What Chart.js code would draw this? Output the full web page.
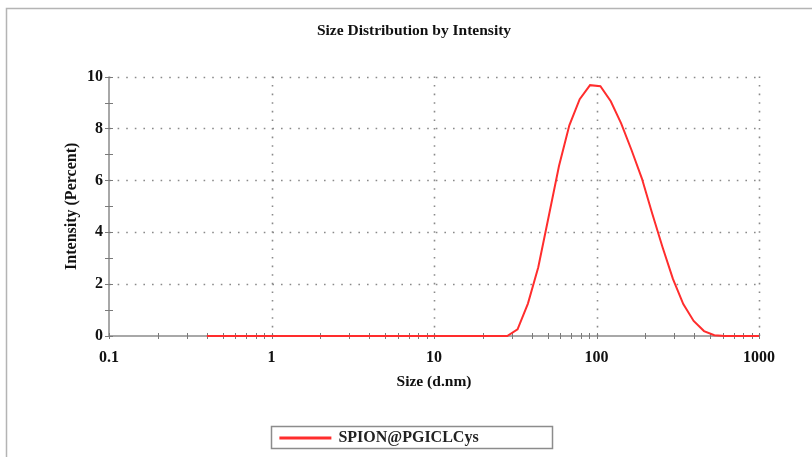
<!DOCTYPE html>
<html>
<head>
<meta charset="utf-8">
<script src="https://cdn.jsdelivr.net/npm/chart.js@4.4.0/dist/chart.umd.min.js"></script>
<style>
  html, body { margin: 0; padding: 0; background: #fff; }
  #wrap { width: 812px; height: 457px; }
</style>
</head>
<body>
<div id="wrap"><canvas id="myChart" width="812" height="457"></canvas></div>
<script>
// size bins (d.nm) and intensity (%)
let sizes = [0.4, 0.4632, 0.5365, 0.6213, 0.7195, 0.8332, 0.9649, 1.117, 1.294, 1.499,
    1.736, 2.010, 2.328, 2.696, 3.122, 3.615, 4.187, 4.849, 5.615, 6.503,
    7.531, 8.721, 10.10, 11.70, 13.54, 15.69, 18.17, 21.04, 24.36, 28.21,
    32.67, 37.84, 43.82, 50.75, 58.77, 68.06, 78.82, 91.28, 105.7, 122.4,
    141.8, 164.2, 190.1, 220.2, 255.0, 295.3, 342.0, 396.1, 458.7, 531.2,
    615.1, 712.4, 825.0, 955.4, 1106];
let intensity = [0, 0, 0, 0, 0, 0, 0, 0, 0, 0,
    0, 0, 0, 0, 0, 0, 0, 0, 0, 0,
    0, 0, 0, 0, 0, 0, 0, 0, 0, 0,
    0.26, 1.25, 2.65, 4.6, 6.55, 8.12, 9.13, 9.67, 9.63, 9.05,
    8.2, 7.17, 6.08, 4.72, 3.42, 2.2, 1.23, 0.58, 0.19, 0.03,
    0, 0, 0, 0, 0];
let seriesName = 'SPION@PGICLCys';
let xTicks = [0.1, 1, 10, 100, 1000];
let yTicks = [0, 2, 4, 6, 8, 10];

let points = sizes.map(function(s, i) { return { x: s, y: intensity[i] }; });

let fontFam = '"Liberation Serif", "Times New Roman", serif';

// frame, dotted grid, axis lines and tick marks
let framePlugin = {
    id: 'frame',
    afterLayout: function(chart) {
        // the title sits a bit right of the canvas middle
        chart.titleBlock.left = 69;
    },
    beforeDatasetsDraw: function(chart) {
        let ctx = chart.ctx;
        let xs = chart.scales.x, ys = chart.scales.y;
        let a = chart.chartArea;
        ctx.save();
        // outer frame
        ctx.strokeStyle = '#b4b4b4';
        ctx.lineWidth = 1.5;
        ctx.beginPath();
        ctx.moveTo(6.5, 457); ctx.lineTo(6.5, 8.5); ctx.lineTo(812, 8.5);
        ctx.stroke();

        // dotted grid
        ctx.strokeStyle = '#8a8a8a';
        ctx.lineWidth = 1.6;
        ctx.setLineDash([1.6, 7]);
        yTicks.forEach(function(v) {
            if (v === 0) return;
            let y = Math.round(ys.getPixelForValue(v)) + 0.5;
            ctx.beginPath(); ctx.moveTo(a.left, y); ctx.lineTo(a.right, y); ctx.stroke();
        });
        xTicks.forEach(function(v) {
            if (v === 0.1) return;
            let x = Math.round(xs.getPixelForValue(v)) + 0.5;
            ctx.beginPath(); ctx.moveTo(x, a.bottom); ctx.lineTo(x, a.top); ctx.stroke();
        });
        ctx.setLineDash([]);

        // axis lines
        ctx.strokeStyle = '#8c8c8c';
        ctx.lineWidth = 1.5;
        ctx.beginPath();
        ctx.moveTo(a.left, a.top); ctx.lineTo(a.left, a.bottom); ctx.lineTo(a.right, a.bottom);
        ctx.stroke();

        // tick marks
        ctx.lineWidth = 1;
        ctx.strokeStyle = '#7a7a7a';
        for (let v = 0; v <= 10; v++) {
            let y = Math.round(ys.getPixelForValue(v)) + 0.5;
            ctx.beginPath(); ctx.moveTo(a.left - 4, y); ctx.lineTo(a.left + 4, y); ctx.stroke();
        }
        for (let d = 0.1; d < 1000; d *= 10) {
            for (let k = 1; k <= 10; k++) {
                let x = Math.round(xs.getPixelForValue(d * k)) + 0.5;
                ctx.beginPath(); ctx.moveTo(x, a.bottom - 3); ctx.lineTo(x, a.bottom + 3); ctx.stroke();
            }
        }
        ctx.restore();
    },
    afterDraw: function(chart) {
        // box round the legend
        let lg = chart.legend;
        if (!lg || !lg.legendHitBoxes.length) return;
        let hb = lg.legendHitBoxes[0];
        let ctx = chart.ctx;
        let cy = hb.top + hb.height / 2;
        ctx.save();
        ctx.strokeStyle = '#8c8c8c';
        ctx.lineWidth = 1.5;
        ctx.strokeRect(Math.round(hb.left) - 8.5, Math.round(cy) - 11.5, 281, 22);
        ctx.restore();
    }
};

let canvas = document.getElementById('myChart');
let chartCtx = canvas.getContext('2d');
new Chart(chartCtx, {
    type: 'line',
    data: {
        datasets: [{
            label: seriesName,
            data: points,
            borderColor: '#ff2d2d',
            backgroundColor: '#ff2d2d',
            borderWidth: 2,
            pointRadius: 0,
            tension: 0,
            fill: false,
            clip: { left: 0, top: 3, right: 0, bottom: 3 }
        }]
    },
    options: {
        responsive: false,
        animation: false,
        layout: { padding: { left: 0, right: 53, top: 0, bottom: 1 } },
        plugins: {
            title: {
                display: true,
                text: 'Size Distribution by Intensity',
                color: '#111',
                font: { family: fontFam, size: 15.5, weight: 'bold' },
                padding: { top: 22, bottom: 36 }
            },
            legend: {
                position: 'bottom',
                labels: {
                    color: '#222',
                    font: { family: fontFam, size: 16, weight: 'bold' },
                    boxWidth: 50,
                    boxHeight: 1,
                    padding: 10
                }
            },
            tooltip: { enabled: false }
        },
        scales: {
            x: {
                type: 'logarithmic',
                min: 0.1,
                max: 1000,
                afterBuildTicks: function(scale) {
                    scale.ticks = xTicks.map(function(v) { return { value: v }; });
                },
                ticks: {
                    color: '#111',
                    font: { family: fontFam, size: 16, weight: 'bold' },
                    padding: 12,
                    maxRotation: 0,
                    autoSkip: false,
                    callback: function(v) { return String(v); }
                },
                grid: { display: false, drawTicks: false },
                border: { display: false },
                title: {
                    display: true,
                    text: 'Size (d.nm)',
                    color: '#111',
                    font: { family: fontFam, size: 15.5, weight: 'bold' },
                    padding: { top: 0, bottom: 29 }
                },
                afterFit: function(scale) { scale.height = 84; }
            },
            y: {
                min: 0,
                max: 10,
                afterBuildTicks: function(scale) {
                    scale.ticks = yTicks.map(function(v) { return { value: v }; });
                },
                ticks: {
                    color: '#111',
                    font: { family: fontFam, size: 16, weight: 'bold' },
                    padding: 6
                },
                grid: { display: false, drawTicks: false },
                border: { display: false },
                title: {
                    display: true,
                    text: 'Intensity (Percent)',
                    color: '#111',
                    font: { family: fontFam, size: 16, weight: 'bold' },
                    padding: { top: 62, bottom: 0 }
                },
                afterFit: function(scale) { scale.width = 109; }
            }
        }
    },
    plugins: [framePlugin]
});
</script>
</body>
</html>
